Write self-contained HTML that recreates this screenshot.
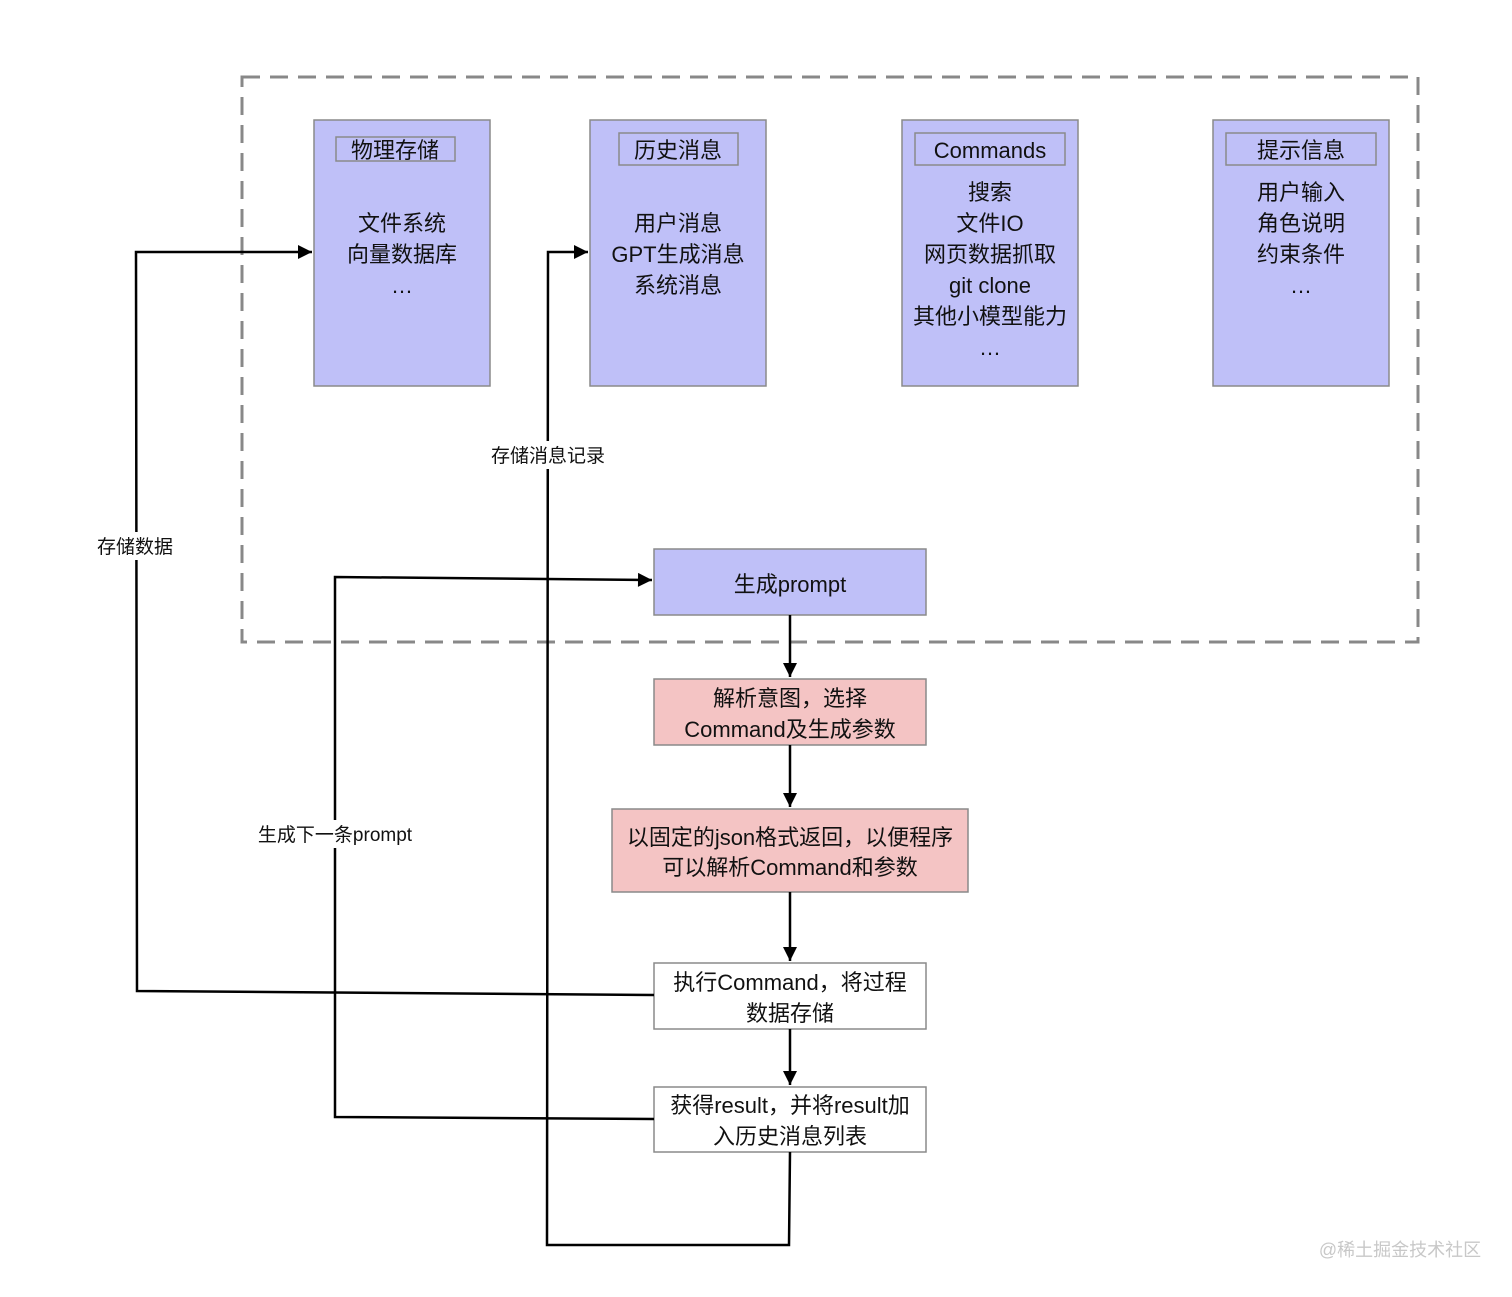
<!DOCTYPE html>
<html><head><meta charset="utf-8"><style>
body{margin:0;background:#fff;}
text{font-family:"Liberation Sans","Noto Sans CJK SC",sans-serif;fill:#111;}
</style></head><body>
<svg width="1512" height="1292" viewBox="0 0 1512 1292" xmlns="http://www.w3.org/2000/svg">
<defs>
<marker id="b" viewBox="0 0 10 10" markerWidth="18" markerHeight="14" refX="10" refY="5" orient="auto" markerUnits="userSpaceOnUse"><path d="M0,0 L10,5 L0,10 Z" fill="#000"/></marker></defs>
<rect x="242" y="77" width="1176" height="565" fill="none" stroke="#888" stroke-width="3" stroke-dasharray="18,10"/>
<g stroke="#8a8a8a" stroke-width="1.5" fill="#bfc0f8">
<rect x="314" y="120" width="176" height="266"/>
<rect x="590" y="120" width="176" height="266"/>
<rect x="902" y="120" width="176" height="266"/>
<rect x="1213" y="120" width="176" height="266"/>
<rect x="336" y="137" width="119" height="24"/>
<rect x="619" y="133" width="119" height="32"/>
<rect x="915" y="133" width="150" height="32"/>
<rect x="1226" y="133" width="150" height="32"/>
<rect x="654" y="549" width="272" height="66"/>
</g>
<g stroke="#8a8a8a" stroke-width="1.5" fill="#f4c4c4">
<rect x="654" y="679" width="272" height="66"/>
<rect x="612" y="809" width="356" height="83"/>
</g>
<g stroke="#8a8a8a" stroke-width="1.5" fill="#fff">
<rect x="654" y="963" width="272" height="66"/>
<rect x="654" y="1087" width="272" height="65"/>
</g>
<g font-size="22" text-anchor="middle">
<text x="395" y="158">物理存储</text>
<text x="678" y="158">历史消息</text>
<text x="990" y="158">Commands</text>
<text x="1301" y="158">提示信息</text>
<text x="402" y="231">文件系统</text><text x="402" y="262">向量数据库</text><text x="402" y="293">…</text>
<text x="678" y="231">用户消息</text><text x="678" y="262">GPT生成消息</text><text x="678" y="293">系统消息</text>
<text x="990" y="200">搜索</text><text x="990" y="231">文件IO</text><text x="990" y="262">网页数据抓取</text><text x="990" y="293">git clone</text><text x="990" y="324">其他小模型能力</text><text x="990" y="355">…</text>
<text x="1301" y="200">用户输入</text><text x="1301" y="231">角色说明</text><text x="1301" y="262">约束条件</text><text x="1301" y="293">…</text>
<text x="790" y="592">生成prompt</text>
<text x="790" y="706">解析意图，选择</text><text x="790" y="737">Command及生成参数</text>
<text x="790" y="845">以固定的json格式返回，以便程序</text><text x="790" y="875">可以解析Command和参数</text>
<text x="790" y="990">执行Command，将过程</text><text x="790" y="1021">数据存储</text>
<text x="790" y="1113">获得result，并将result加</text><text x="790" y="1144">入历史消息列表</text>
</g>
<g stroke="#000" stroke-width="2.5" fill="none">
<path d="M654,995 L137,991 L136,252 L312,252" marker-end="url(#b)"/>
<path d="M790,1152 L789,1245 L547,1245 L548,252 L588,252" marker-end="url(#b)"/>
<path d="M654,1119 L335,1117 L335,577 L652,580" marker-end="url(#b)"/>
<path d="M790,615 L790,677" marker-end="url(#b)"/>
<path d="M790,745 L790,807" marker-end="url(#b)"/>
<path d="M790,892 L790,961" marker-end="url(#b)"/>
<path d="M790,1029 L790,1085" marker-end="url(#b)"/>
</g>
<g font-size="19" text-anchor="middle">
<rect x="92" y="532" width="88" height="28" fill="#fff"/><text x="135" y="553">存储数据</text>
<rect x="486" y="441" width="124" height="28" fill="#fff"/><text x="548" y="462">存储消息记录</text>
<rect x="252" y="820" width="166" height="28" fill="#fff"/><text x="335" y="841">生成下一条prompt</text>
</g>
<text x="1400" y="1256" font-size="18" text-anchor="middle" style="fill:#c8c8c8">@稀土掘金技术社区</text>
</svg>
</body></html>
